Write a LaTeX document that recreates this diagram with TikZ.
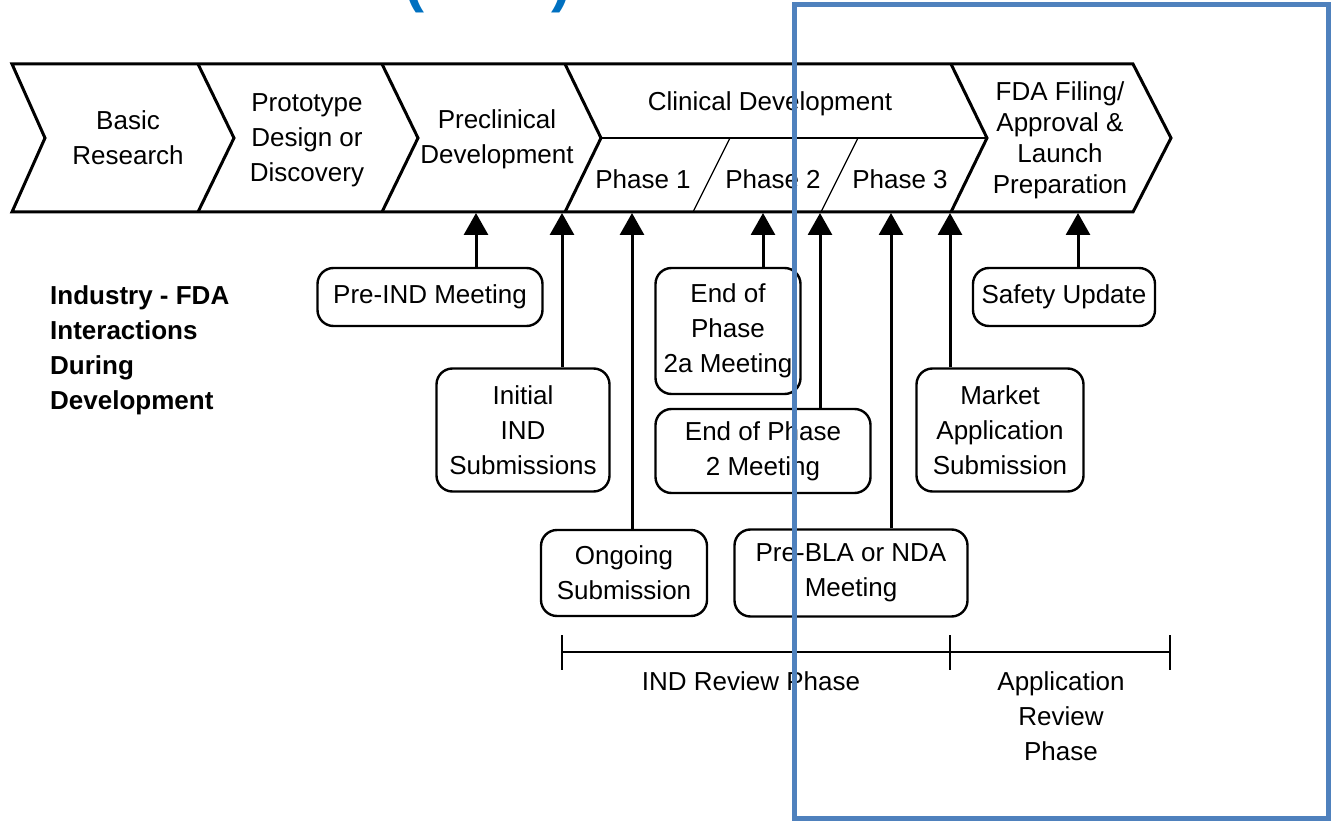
\documentclass[tikz,border=0pt]{standalone}
\usepackage{fontspec}
\setmainfont{Liberation Sans}
\usetikzlibrary{positioning, arrows.meta}
\definecolor{frameblue}{RGB}{79,129,189}
\definecolor{titleblue}{RGB}{0,112,192}

\begin{document}
\begin{tikzpicture}[x=1pt, y=-1pt]
					\tikzset{
						stage/.style={align=center, inner sep=0pt, font=\fontsize{26}{35}\selectfont},
						meeting/.style={draw, line width=2.4pt, rounded corners=16pt, align=center, inner sep=0pt, font=\fontsize{26}{35}\selectfont},
						upto/.style={line width=3pt, -{Triangle[width=24pt, length=22pt]}},
						tick/.style={line width=2.5pt}
					}
					\useasboundingbox (0,0) rectangle (1331,821);
					\begin{scope}
						\clip (0,0) rectangle (1331,821);
						\node[anchor=base, text=titleblue, font=\bfseries\fontsize{60}{70}\selectfont] (title) at (488,1) {(DDE)};
					\end{scope}
					\draw[line width=3pt, line join=miter] (12,64) -- (1133,64) -- (1171,138) -- (1133,212) -- (12,212) -- (45,138) -- cycle;
					\foreach \x in {198,382,565,951} {
						\draw[line width=3pt, line join=miter] (\x,64) -- (\x+36,138) -- (\x,212);
					}
					\draw[line width=1.5pt] (602,138) -- (986,138);
					\draw[line width=1.2pt] (730,138) -- (693,212);
					\draw[line width=1.2pt] (858,138) -- (821,212);
					\node[stage] (basic) at (128,138) {Basic\\Research};
					\node[stage] (proto) at (307,140) {Prototype\\Design or\\Discovery};
					\node[stage] (precl) at (497,139) {Preclinical\\Development};
					\node[stage] (clin) at (770,104) {Clinical Development};
					\node[stage] (ph1) at (643,179) {Phase 1};
					\node[stage] (ph2) at (773,179) {Phase 2};
					\node[stage] (ph3) at (900,179) {Phase 3};
					\node[stage, font=\fontsize{26}{31}\selectfont] (fda) at (1060,140) {FDA Filing/\\Approval \&\\Launch\\Preparation};
					\node[anchor=west, align=left, inner sep=0pt, font=\bfseries\fontsize{26}{35}\selectfont] (title2) at (50,350) {Industry - FDA\\Interactions\\During\\Development};
					\node[meeting, minimum width=225pt, minimum height=58pt] (pre) at (430,297) {Pre-IND Meeting};
					\node[meeting, minimum width=173pt, minimum height=123pt] (init) at (523,430) {Initial\\IND\\Submissions};
					\node[meeting, minimum width=166pt, minimum height=86pt] (ongo) at (624,573) {Ongoing\\Submission};
					\node[meeting, minimum width=145pt, minimum height=126pt] (eoa) at (728,331) {End of\\Phase\\2a Meeting};
					\node[meeting, minimum width=215pt, minimum height=84pt] (eob) at (763,451) {End of Phase\\2 Meeting};
					\node[meeting, minimum width=233pt, minimum height=87pt] (prebla) at (851,573) {Pre-BLA or NDA\\Meeting};
					\node[meeting, minimum width=167pt, minimum height=123pt] (market) at (1000,430) {Market\\Application\\Submission};
					\node[meeting, minimum width=182pt, minimum height=58pt] (safety) at (1064,297) {Safety Update};
					\foreach \b/\x in {pre/476, init/562, ongo/632, eoa/763, eob/820, prebla/891, market/950, safety/1078} {
						\coordinate (t\b) at (\x,213);
						\draw[upto] (\b.north -| t\b) -- (t\b);
					}
					\coordinate (rL) at (562,652);
					\coordinate (rM) at (950,652);
					\coordinate (rR) at (1170,652);
					\draw[tick] (rL) -- (rR);
					\foreach \p in {rL,rM,rR} {
						\draw[tick] ([yshift=17pt]\p) -- ([yshift=-18pt]\p);
					}
					\node[stage] (indrev) at (751,681) {IND Review Phase};
					\node[stage] (apprev) at (1061,716) {Application\\Review\\Phase};
					\draw[line width=5pt, frameblue] (794,5) rectangle (1328,818);
				\end{tikzpicture}
\end{document}
